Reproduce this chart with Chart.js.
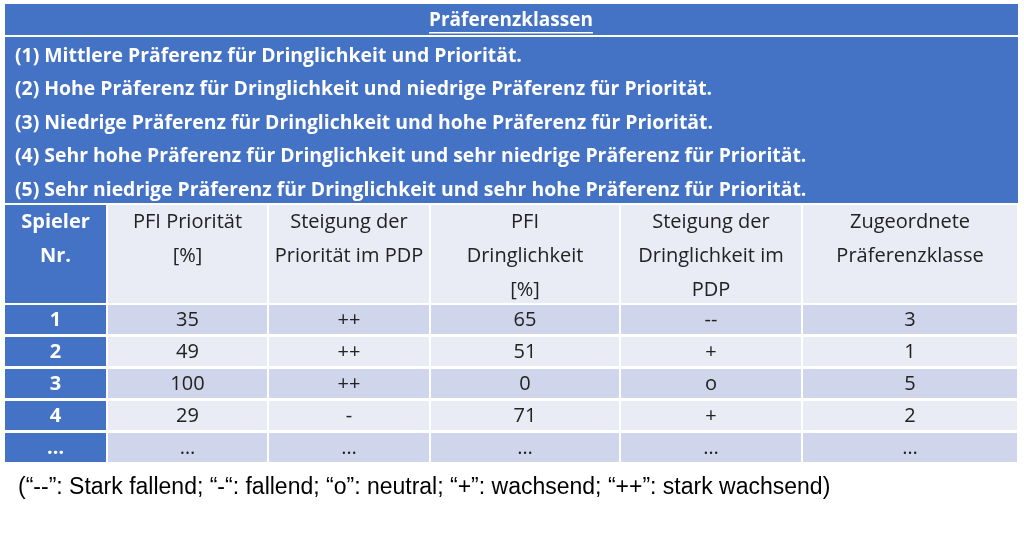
<!DOCTYPE html>
<html lang="de">
  <head>
    <meta charset="UTF-8" />
    <title>Präferenzklassen</title>
    <style>
      body { margin: 0; background: #ffffff; }
      #wrap { width: 1024px; height: 559px; }
    </style>
    <script src="https://cdn.jsdelivr.net/npm/chart.js"></script>
  </head>
  <body>
    <div id="wrap"><canvas id="tbl" width="1024" height="559"></canvas></div>
    <script>
      // table content
      const title = "Präferenzklassen";
      const classes = [
        "(1) Mittlere Präferenz für Dringlichkeit und Priorität.",
        "(2) Hohe Präferenz für Dringlichkeit und niedrige Präferenz für Priorität.",
        "(3) Niedrige Präferenz für Dringlichkeit und hohe Präferenz für Priorität.",
        "(4) Sehr hohe Präferenz für Dringlichkeit und sehr niedrige Präferenz für Priorität.",
        "(5) Sehr niedrige Präferenz für Dringlichkeit und sehr hohe Präferenz für Priorität."
      ];
      const headers = [
        ["Spieler", "Nr."],
        ["PFI Priorität", "[%]"],
        ["Steigung der", "Priorität im PDP"],
        ["PFI", "Dringlichkeit", "[%]"],
        ["Steigung der", "Dringlichkeit im", "PDP"],
        ["Zugeordnete", "Präferenzklasse"]
      ];
      const players = ["1", "2", "3", "4", "…"];
      const pfiPrio = ["35", "49", "100", "29", "…"];
      const slopePrio = ["++", "++", "++", "-", "…"];
      const pfiDring = ["65", "51", "0", "71", "…"];
      const slopeDring = ["--", "+", "o", "+", "…"];
      const klasse = ["3", "1", "5", "2", "…"];
      const footnote = "(“--”: Stark fallend; “-“: fallend; “o”: neutral; “+”: wachsend; “++”: stark wachsend)";

      // geometry (in scale units, same as pixels)
      const colEdges = [5, 107, 268, 430, 620, 802, 1018];
      const rowTops = [305, 337, 369, 401, 433];
      const rowH = 29;

      const BLUE = "#4472C4";
      const LIGHT = "#E9EBF5";
      const MID = "#CFD5EA";
      const FONT = "'Open Sans', sans-serif";

      const tablePlugin = {
        id: "table",
        afterDraw(chart) {
          const c = chart.ctx;
          const X = (v) => chart.scales.x.getPixelForValue(v);
          const Y = (v) => chart.scales.y.getPixelForValue(v);
          const rect = (x0, y0, x1, y1, col) => {
            c.fillStyle = col;
            c.fillRect(X(x0), Y(y0), X(x1) - X(x0), Y(y1) - Y(y0));
          };
          const text = (s, x, y, opt) => {
            c.font = opt.font;
            c.fillStyle = opt.color;
            c.textAlign = opt.align || "center";
            c.textBaseline = "middle";
            c.fillText(s, X(x), Y(y));
          };
          c.save();
          // title band
          rect(5, 4, 1018, 35, BLUE);
          text(title, 511, 21, { font: "bold 19px " + FONT, color: "#fff" });
          c.font = "bold 19px " + FONT;
          const tw = c.measureText(title).width;
          c.fillStyle = "#fff";
          c.fillRect(X(511) - tw / 2, Y(32), tw, 1.5);
          // class rows
          rect(5, 37, 1018, 203, BLUE);
          classes.forEach((s, i) => {
            text(s, 15, 56 + i * 33.5, { font: "bold 19.4px " + FONT, color: "#fff", align: "left" });
          });
          // header row
          headers.forEach((lines, j) => {
            const x0 = colEdges[j] + (j ? 1 : 0), x1 = colEdges[j + 1] - 1;
            rect(x0, 205, x1, 303, j === 0 ? BLUE : LIGHT);
            lines.forEach((l, k) => {
              text(l, (x0 + x1) / 2, 222 + k * 34, {
                font: (j === 0 ? "bold " : "") + "20px " + FONT,
                color: j === 0 ? "#fff" : "#222"
              });
            });
          });
          // body rows
          const cols = [players, pfiPrio, slopePrio, pfiDring, slopeDring, klasse];
          rowTops.forEach((top, i) => {
            cols.forEach((arr, j) => {
              const x0 = colEdges[j] + (j ? 1 : 0), x1 = colEdges[j + 1] - 1;
              rect(x0, top, x1, top + rowH, j === 0 ? BLUE : (i % 2 ? LIGHT : MID));
              text(arr[i], (x0 + x1) / 2, top + rowH / 2 + 1, {
                font: (j === 0 ? "bold " : "") + "20px " + FONT,
                color: j === 0 ? "#fff" : "#222"
              });
            });
          });
          text(footnote, 18, 488, { font: "23px 'Liberation Sans', Arial, sans-serif", color: "#000", align: "left" });
          c.restore();
        }
      };

      new Chart(document.getElementById("tbl"), {
        type: "scatter",
        data: { datasets: [{ data: [] }] },
        options: {
          responsive: false,
          animation: false,
          layout: { padding: 0 },
          plugins: { legend: { display: false }, tooltip: { enabled: false } },
          scales: {
            x: { type: "linear", min: 0, max: 1024, display: false },
            y: { type: "linear", min: 0, max: 559, reverse: true, display: false }
          }
        },
        plugins: [tablePlugin]
      });
    </script>
  </body>
</html>
